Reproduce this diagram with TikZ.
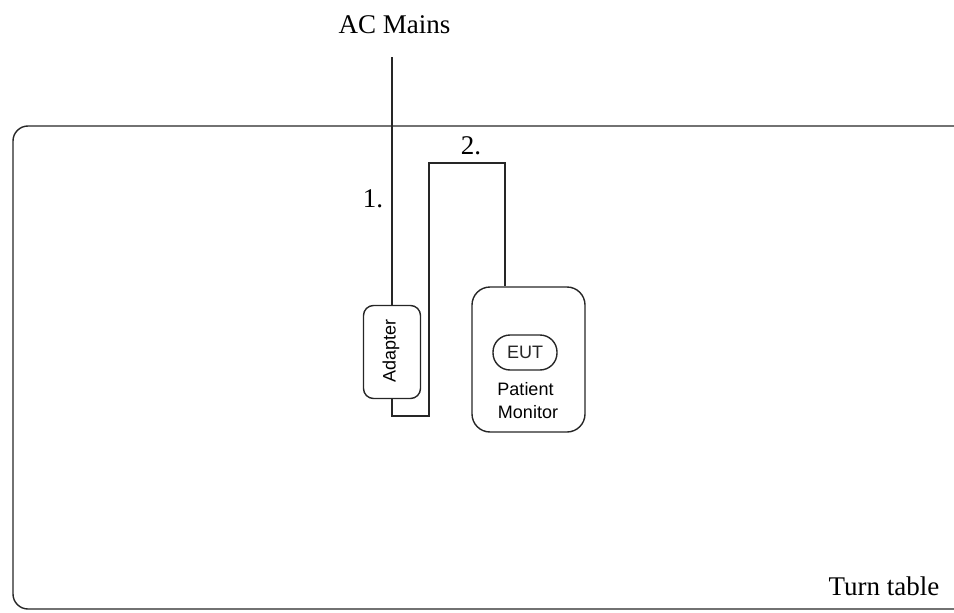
\documentclass[tikz,border=0pt]{standalone}
\usepackage{fontspec}
\setmainfont{Liberation Serif}
\setsansfont{Liberation Sans}
\begin{document}
\begin{tikzpicture}[x=1pt,y=-1pt,
  wire/.style={line width=1.4pt,black!85},
  serif/.style={font=\fontsize{27}{30}\selectfont,inner sep=0pt},
  sanslbl/.style={font=\sffamily\fontsize{18}{20}\selectfont,inner sep=0pt},
  box/.style={draw,line width=1.4pt,black!85,inner sep=0pt}]
\useasboundingbox (0,0) rectangle (954,613);
% turn table (open on the right)
\draw[wire,rounded corners=15pt] (960,126) -- (13,126) -- (13,609) -- (960,609);
\node[serif,anchor=base] (tt) at (884,595) {Turn table};
% AC mains
\node[serif,anchor=base] (ac) at (394.5,33) {AC Mains};
\coordinate (acTop) at (392,57);
% adapter
\node[box,rounded corners=10pt,minimum width=57pt,minimum height=93pt] (adapter) at (392,352) {};
\node[sanslbl,rotate=90] (adtext) at (391,351) {Adapter};
% patient monitor
\node[box,rounded corners=18pt,minimum width=113pt,minimum height=145pt] (monitor) at (528.5,359.5) {};
\node[box,rounded corners=17pt,minimum width=64pt,minimum height=35pt,sanslbl] (eut) at (525,352.5) {EUT};
\node[sanslbl,anchor=base] (pat) at (525.5,395) {Patient};
\node[sanslbl,anchor=base] (mon) at (528,418) {Monitor};
% cable 1
\draw[wire] (acTop) -- (adapter.north);
\node[serif,anchor=base] (l1) at (373,207) {1.};
% cable 2
\coordinate (c1) at (429,416);
\coordinate (c2) at (429,163);
\coordinate (c3) at (505,163);
\draw[wire] (adapter.south) |- (c1) -- (c2) -- (c3) -- (c3 |- monitor.north);
\node[serif,anchor=base] (l2) at (471,154) {2.};
\end{tikzpicture}
\end{document}
